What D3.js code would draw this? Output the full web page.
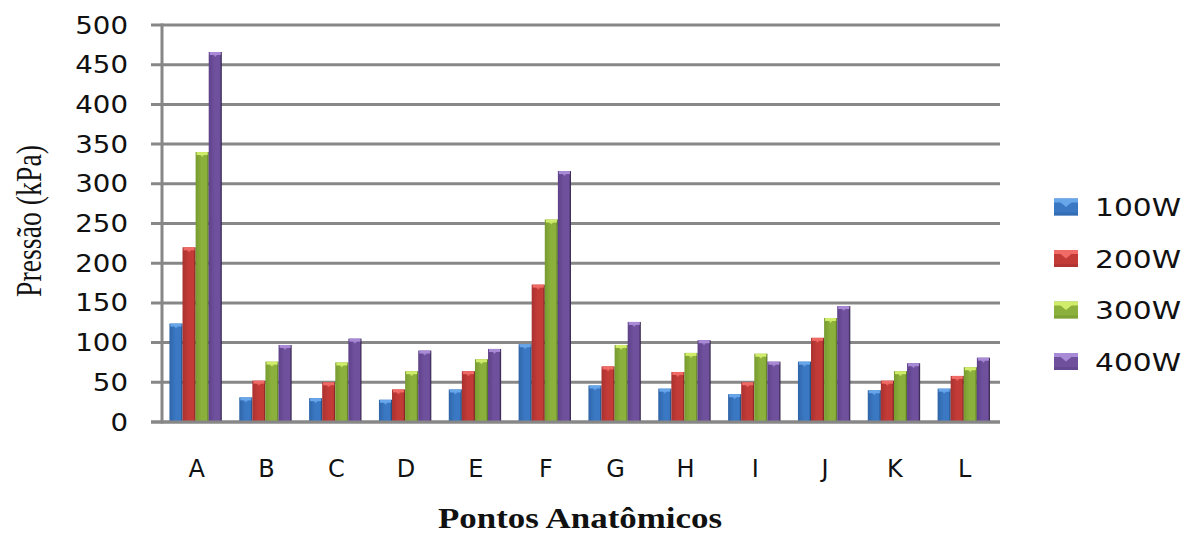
<!DOCTYPE html>
<html><head><meta charset="utf-8">
<script src="https://cdn.jsdelivr.net/npm/d3@7"></script>
<style>body{margin:0;background:#fff}svg{display:block}</style>
</head><body>
<svg id="c" width="1184" height="534"></svg>
<script>
const categories = ["A","B","C","D","E","F","G","H","I","J","K","L"];
const seriesNames = ["100W","200W","300W","400W"];
const s100 = [124, 31, 30, 28, 41, 98, 46, 42, 35, 76, 40, 42];
const s200 = [220, 52, 50, 41, 64, 173, 70, 63, 50, 106, 52, 58];
const s300 = [340, 76, 75, 64, 79, 255, 97, 87, 86, 131, 64, 69];
const s400 = [466, 97, 105, 90, 92, 316, 126, 103, 76, 146, 74, 81];
const yTicks = [0,50,100,150,200,250,300,350,400,450,500];
const seriesValues = [s100, s200, s300, s400];

const colors = [
  {main:"#3a78c3", left:"#2f65a8", right:"#1d3e6b", cap:"#68a6ea"},
  {main:"#c23b37", left:"#a93230", right:"#6b1c1c", cap:"#f06b66"},
  {main:"#8bb03b", left:"#779a30", right:"#4a6420", cap:"#d0ec6a"},
  {main:"#6f509d", left:"#5e4288", right:"#2a1d3e", cap:"#a88ad6"}
];

const svg = d3.select("#c");
const defs = svg.append("defs");
colors.forEach((c,i)=>{
  const g = defs.append("linearGradient").attr("id","g"+i).attr("x1","0").attr("x2","1").attr("y1","0").attr("y2","0");
  g.append("stop").attr("offset","0").attr("stop-color",c.left);
  g.append("stop").attr("offset","0.45").attr("stop-color",c.main);
  g.append("stop").attr("offset","0.85").attr("stop-color",c.main);
  g.append("stop").attr("offset","1").attr("stop-color",c.right);
});

const y = d3.scaleLinear().domain([0,500]).range([422,25]);
const x0 = d3.scaleBand().domain(categories).range([160.7,998.7]).paddingInner(0).paddingOuter(0);
const x1 = d3.scaleBand().domain(seriesNames).range([0,x0.bandwidth()]).paddingInner(0).paddingOuter(0.667);

const gridColor = "#878787";
svg.append("g").selectAll("line").data(yTicks).join("line")
  .attr("x1",151).attr("x2",1000)
  .attr("y1",d=>y(d)).attr("y2",d=>y(d))
  .attr("stroke",gridColor).attr("stroke-width",3);
svg.append("line").attr("x1",162).attr("x2",162).attr("y1",y(500)-1.5).attr("y2",y(0)+1.5)
  .attr("stroke",gridColor).attr("stroke-width",3);

svg.append("g").selectAll("text").data(yTicks).join("text")
  .attr("x",128).attr("y",d=>y(d)+8.5)
  .attr("text-anchor","end")
  .attr("font-family","DejaVu Sans").attr("font-size",24).attr("fill","#111")
  .attr("textLength",d=>String(d).length*17.6).attr("lengthAdjust","spacingAndGlyphs")
  .text(d=>d);

const groups = svg.append("g").selectAll("g").data(categories).join("g")
  .attr("transform",d=>`translate(${x0(d)},0)`);
groups.each(function(cat,ci){
  const g = d3.select(this);
  seriesNames.forEach((s,si)=>{
    const v = seriesValues[si][ci];
    const bx = x1(s), bw = x1.bandwidth();
    const top = y(v), h = y(0)-top;
    g.append("rect").attr("x",bx).attr("y",top).attr("width",bw).attr("height",h)
      .attr("fill",`url(#g${si})`);
    g.append("rect").attr("x",bx+1).attr("y",top).attr("width",bw-2).attr("height",3)
      .attr("fill",colors[si].cap);
    g.append("path").attr("d",`M${bx+bw*0.3},${top+2}L${bx+bw*0.7},${top+2}L${bx+bw*0.5},${top+5}Z`)
      .attr("fill",colors[si].cap).attr("opacity",0.8);
  });
});

svg.append("line").attr("x1",151).attr("x2",1000).attr("y1",y(0)).attr("y2",y(0))
  .attr("stroke",gridColor).attr("stroke-width",3);

svg.append("g").selectAll("text").data(categories).join("text")
  .attr("x",d=>x0(d)+x0.bandwidth()/2+1).attr("y",477)
  .attr("text-anchor","middle")
  .attr("font-family","DejaVu Sans").attr("font-size",24).attr("fill","#111")
  .text(d=>d);

svg.append("text").attr("x",580).attr("y",528).attr("text-anchor","middle")
  .attr("font-family","Liberation Serif").attr("font-weight","bold").attr("font-size",30).attr("fill","#111")
  .attr("textLength",284).attr("lengthAdjust","spacingAndGlyphs")
  .text("Pontos Anatômicos");
svg.append("text").attr("transform","translate(41,221) rotate(-90)").attr("text-anchor","middle")
  .attr("font-family","Liberation Serif").attr("font-size",36).attr("fill","#111")
  .attr("textLength",152).attr("lengthAdjust","spacingAndGlyphs")
  .text("Pressão (kPa)");

const leg = svg.append("g").selectAll("g").data(seriesNames).join("g")
  .attr("transform",(d,i)=>`translate(1054,${207+i*51.5})`);
leg.append("rect").attr("x",0).attr("y",-8.5).attr("width",24).attr("height",17)
  .attr("fill",(d,i)=>colors[i].main);
leg.append("rect").attr("x",0).attr("y",-8.5).attr("width",24).attr("height",4)
  .attr("fill",(d,i)=>colors[i].cap);
leg.append("path").attr("d","M6,-5L18,-5L12,0Z").attr("fill",(d,i)=>colors[i].cap);
leg.append("rect").attr("x",0).attr("y",5.5).attr("width",24).attr("height",3)
  .attr("fill",(d,i)=>colors[i].left).attr("opacity",0.6);
leg.append("text").attr("x",41).attr("y",9)
  .attr("font-family","DejaVu Sans").attr("font-size",24).attr("fill","#111")
  .attr("textLength",86).attr("lengthAdjust","spacingAndGlyphs")
  .text(d=>d);
</script>
</body></html>
